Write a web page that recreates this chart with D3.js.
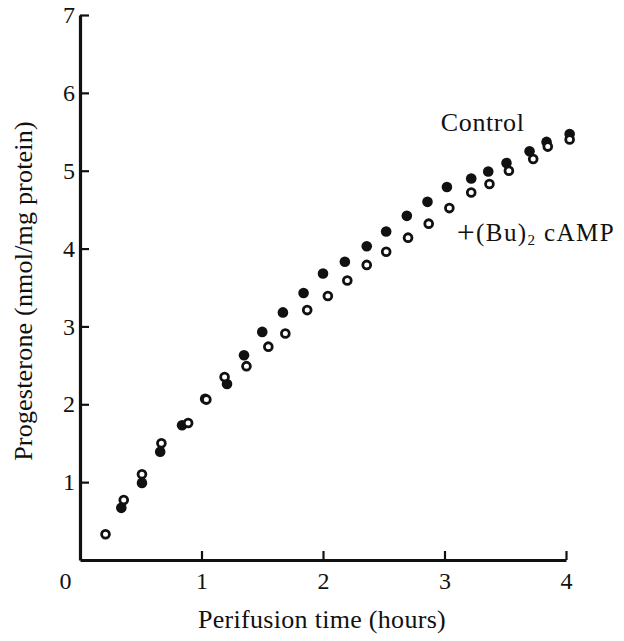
<!DOCTYPE html>
<html>
<head>
<meta charset="utf-8">
<script src="https://cdn.jsdelivr.net/npm/d3@7"></script>
<style>
  body { margin: 0; background: #fff; }
  text { font-family: "Liberation Serif", "Times New Roman", serif; fill: #111; }
</style>
</head>
<body>
<script>
// Control (filled circles): time in hours, progesterone nmol/mg protein
let controlT = [0.34, 0.51, 0.66, 0.84, 1.03, 1.21, 1.35, 1.50, 1.67, 1.84, 2.00, 2.18, 2.36, 2.52, 2.69, 2.86, 3.02, 3.22, 3.36, 3.51, 3.70, 3.84, 4.03];
let controlV = [0.67, 0.99, 1.39, 1.73, 2.07, 2.26, 2.63, 2.93, 3.18, 3.43, 3.68, 3.83, 4.03, 4.22, 4.42, 4.60, 4.79, 4.90, 4.99, 5.10, 5.25, 5.37, 5.47];

// +(Bu)2 cAMP (open circles)
let campT = [0.21, 0.36, 0.51, 0.67, 0.89, 1.04, 1.19, 1.37, 1.55, 1.69, 1.87, 2.04, 2.20, 2.36, 2.52, 2.70, 2.87, 3.04, 3.22, 3.37, 3.53, 3.73, 3.85, 4.03];
let campV = [0.33, 0.77, 1.10, 1.50, 1.76, 2.06, 2.35, 2.49, 2.74, 2.91, 3.21, 3.39, 3.59, 3.79, 3.96, 4.14, 4.32, 4.52, 4.72, 4.83, 5.00, 5.15, 5.31, 5.40];

let xTicks = [0, 1, 2, 3, 4];
let yTicks = [1, 2, 3, 4, 5, 6, 7];

let width = 624;
let height = 641;

let svg = d3.select("body")
    .append("svg")
    .attr("width", width)
    .attr("height", height);

let scaleX = d3.scaleLinear().domain([0, 4]).range([80, 566]);
let scaleY = d3.scaleLinear().domain([0, 7]).range([560, 15]);

// оси: засечки внутрь графика
let axisX = d3.axisBottom(scaleX)
    .tickValues(xTicks)
    .tickSizeInner(-9)
    .tickSizeOuter(0)
    .tickPadding(12)
    .tickFormat(d3.format("d"));
let axisY = d3.axisLeft(scaleY)
    .tickValues(yTicks)
    .tickSizeInner(-9)
    .tickSizeOuter(0)
    .tickPadding(5)
    .tickFormat(d3.format("d"));

let gx = svg.append("g")
    .attr("transform", `translate(0, ${scaleY(0)})`)
    .call(axisX);
let gy = svg.append("g")
    .attr("transform", `translate(${scaleX(0)}, 0)`)
    .call(axisY);

[gx, gy].forEach(g => {
    g.select(".domain").attr("stroke", "#111").attr("stroke-width", 3.2);
    g.selectAll(".tick line").attr("stroke", "#111").attr("stroke-width", 2.2);
    g.selectAll(".tick text")
        .attr("fill", "#111")
        .style("font-family", "'Liberation Serif', serif")
        .style("font-size", "24px");
});

// "0" сдвинут влево от начала координат
gx.selectAll(".tick").filter(d => d === 0).select("line").remove();
gx.selectAll(".tick").filter(d => d === 0).select("text").attr("x", -15);

// точки: сначала контроль, сверху открытые кружки
svg.append("g")
    .selectAll("circle")
    .data(d3.zip(controlT, controlV))
    .join("circle")
    .attr("cx", d => scaleX(d[0]))
    .attr("cy", d => scaleY(d[1]))
    .attr("r", 5.3)
    .attr("fill", "#111");

svg.append("g")
    .selectAll("circle")
    .data(d3.zip(campT, campV))
    .join("circle")
    .attr("cx", d => scaleX(d[0]))
    .attr("cy", d => scaleY(d[1]))
    .attr("r", 3.9)
    .attr("fill", "#fff")
    .attr("stroke", "#111")
    .attr("stroke-width", 2.8);

// подписи серий
svg.append("text")
    .attr("x", scaleX(2.97))
    .attr("y", scaleY(5.51))
    .style("font-size", "26px")
    .style("letter-spacing", "0.6px")
    .text("Control");

let lab = svg.append("text")
    .attr("x", scaleX(3.10))
    .attr("y", scaleY(4.10))
    .style("font-size", "25px")
    .style("letter-spacing", "1.4px");
lab.append("tspan").style("font-size", "32px").style("font-weight", "200").attr("dy", 2).text("+");
lab.append("tspan").attr("dy", -2).text("(Bu)");
lab.append("tspan").attr("dy", 4).style("font-size", "15px").text("2");
lab.append("tspan").attr("dy", -4).text(" cAMP");

// подписи осей
svg.append("text")
    .attr("x", 322)
    .attr("y", 628)
    .attr("text-anchor", "middle")
    .style("font-size", "26px")
    .style("letter-spacing", "0.3px")
    .text("Perifusion time (hours)");

svg.append("text")
    .attr("transform", "translate(32, 291) rotate(-90)")
    .attr("text-anchor", "middle")
    .style("font-size", "26px")
    .style("letter-spacing", "0.2px")
    .text("Progesterone (nmol/mg protein)");
</script>
</body>
</html>
